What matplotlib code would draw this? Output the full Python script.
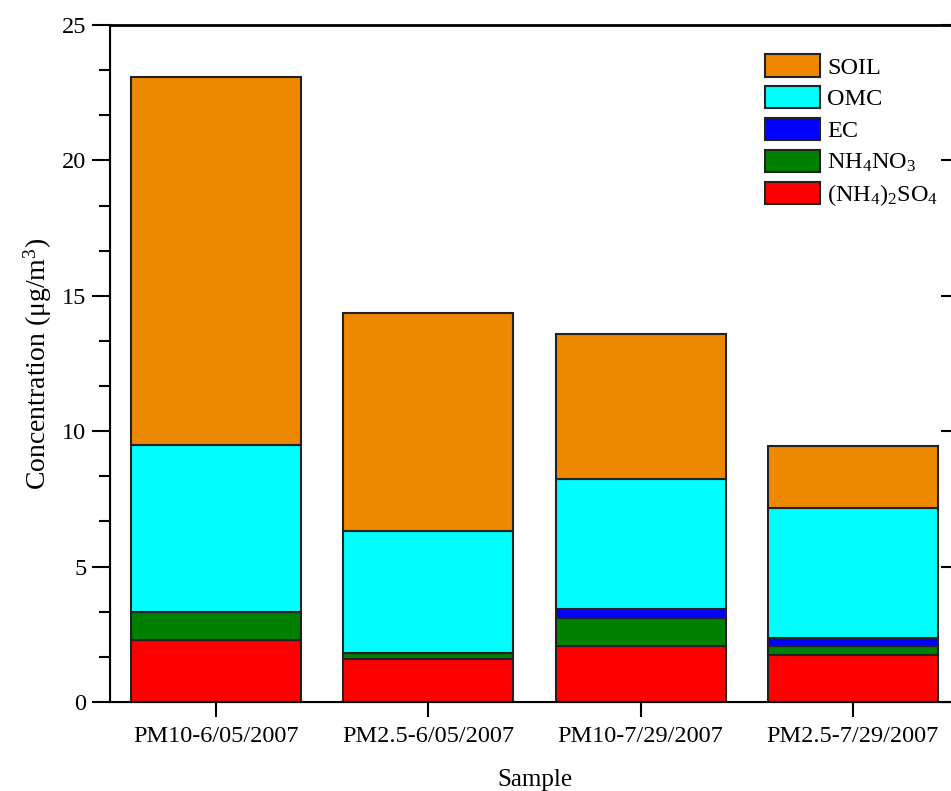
import matplotlib
matplotlib.use('Agg')
import matplotlib.pyplot as plt
from matplotlib.patches import Patch
import numpy as np

plt.rcParams['font.family'] = 'Liberation Serif'
plt.rcParams['mathtext.fontset'] = 'custom'
plt.rcParams['mathtext.rm'] = 'Liberation Serif'
plt.rcParams['mathtext.it'] = 'Liberation Serif:italic'

# data (ug/m3)
samples = ['PM10-6/05/2007', 'PM2.5-6/05/2007', 'PM10-7/29/2007', 'PM2.5-7/29/2007']
ammonium_sulfate = [2.29, 1.59, 2.07, 1.74]
ammonium_nitrate = [1.03, 0.22, 1.03, 0.31]
ec = [0.0, 0.0, 0.34, 0.31]
omc = [6.17, 4.51, 4.80, 4.79]
soil = [13.60, 8.05, 5.36, 2.32]

components = [ammonium_sulfate, ammonium_nitrate, ec, omc, soil]
names = [r'(NH$_4$)$_2$SO$_4$', r'NH$_4$NO$_3$', 'EC', 'OMC', 'SOIL']
colors = ['#ff0000', '#008000', '#0000ff', '#00ffff', '#ee8800']

fig = plt.figure(figsize=(9.51, 7.91), dpi=100)
ax = fig.add_axes([110/951, 1-702/791, 849/951, 677/791])

x = np.arange(1, len(samples)+1)
bottom = np.zeros(len(samples))
for vals, c in zip(components, colors):
    ax.bar(x, vals, width=0.8, bottom=bottom, color=c, edgecolor='#222222', linewidth=1.5)
    bottom += np.array(vals)

ax.set_xlim(0.5, 4.5)
ax.set_ylim(0, 25)
ax.set_xticks(x)
ax.set_xticklabels(samples)
ax.set_yticks(np.arange(0, 26, 5))
ax.set_yticks(np.arange(0, 25.01, 5/3), minor=True)
ax.tick_params(axis='both', labelsize=17.5, width=1.5)
ax.tick_params(axis='y', which='major', direction='out', length=13, pad=4)
ax.tick_params(axis='y', which='minor', direction='out', length=8, width=1.5)
ax.tick_params(axis='x', which='major', direction='out', length=11, pad=6)
ax.tick_params(axis='x', which='minor', bottom=False)
for s in ax.spines.values():
    s.set_linewidth(1.5)
ax.spines['top'].set_linewidth(2)

# right side: major ticks only, pointing inward
ax2 = ax.twinx()
ax2.set_ylim(0, 25)
ax2.set_yticks(np.arange(0, 26, 5))
ax2.tick_params(axis='y', which='major', direction='in', length=13, width=1.5, labelright=False)
ax2.tick_params(axis='y', which='minor', right=False)

ax.set_xlabel('Sample', fontsize=18, labelpad=16)
ax.set_ylabel(r'Concentration ($\mathrm{\mu}$g/m$^3$)', fontsize=20, labelpad=6)

handles = [Patch(facecolor=c, edgecolor='#222222', linewidth=1.5) for c in colors]
leg = fig.legend(handles[::-1], names[::-1], loc='upper left', bbox_to_anchor=(765/951, 1-54/791),
                 frameon=False, fontsize=17.5, handlelength=2.25, handleheight=1.05,
                 labelspacing=0.3, handletextpad=0.3, borderpad=0, borderaxespad=0)

fig.savefig('out.png', dpi=100)
